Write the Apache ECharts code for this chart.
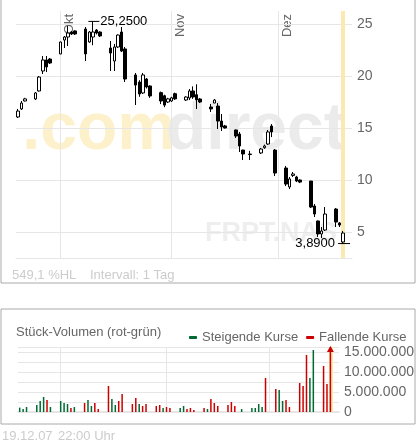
<!DOCTYPE html>
<html>
<head>
<meta charset="utf-8">
<script src="https://cdn.jsdelivr.net/npm/echarts@6/dist/echarts.min.js"></script>
<style>
  html,body{margin:0;padding:0;background:#fff;}
  #chart{width:417px;height:443px;}
</style>
</head>
<body>
<div id="chart"></div>
<script>
"use strict";

// trading days, OHLC [open, close, low, high]
var tradeDays=[
  '2007-09-19','2007-09-20','2007-09-21','2007-09-24','2007-09-25','2007-09-26','2007-09-27','2007-09-28',
  '2007-10-01','2007-10-02','2007-10-03','2007-10-04','2007-10-05',
  '2007-10-08','2007-10-09','2007-10-10','2007-10-11','2007-10-12',
  '2007-10-15','2007-10-16','2007-10-17','2007-10-18','2007-10-19',
  '2007-10-22','2007-10-23','2007-10-24','2007-10-25','2007-10-26',
  '2007-10-29','2007-10-30','2007-10-31','2007-11-01','2007-11-02',
  '2007-11-05','2007-11-06','2007-11-07','2007-11-08','2007-11-09',
  '2007-11-12','2007-11-13','2007-11-14','2007-11-15','2007-11-16',
  '2007-11-19','2007-11-20','2007-11-21','2007-11-23',
  '2007-11-26','2007-11-27','2007-11-28','2007-11-29','2007-11-30',
  '2007-12-03','2007-12-04','2007-12-05','2007-12-06','2007-12-07',
  '2007-12-10','2007-12-11','2007-12-12','2007-12-13','2007-12-14',
  '2007-12-17','2007-12-18','2007-12-19'
];
var ohlc=[
  [16.06,16.63,15.96,16.83],[16.83,17.40,16.73,17.60],[17.60,17.80,17.55,17.90],
  [17.79,18.37,17.69,18.46],[18.56,19.90,18.50,20.00],[20.48,21.54,20.19,21.92],[21.54,20.87,20.38,21.92],[21.63,21.25,21.15,21.73],
  [22.12,23.27,22.10,23.30],[23.46,23.75,22.69,23.85],[23.75,24.13,22.88,24.80],[24.23,24.04,23.94,24.33],[24.33,24.04,23.94,24.40],
  [24.52,22.12,21.44,24.71],[23.27,24.23,23.20,24.33],[23.75,24.23,22.96,25.25],[24.42,24.13,24.00,24.52],[24.23,23.85,23.75,24.30],
  [22.69,22.21,20.48,23.37],[21.44,22.79,20.48,23.08],[22.79,23.94,22.70,24.00],[24.23,22.40,22.30,24.71],[22.60,19.71,19.42,22.79],
  [20.10,19.13,17.21,20.29],[19.42,18.27,18.00,19.60],[18.37,20.10,18.27,20.29],[19.71,18.94,18.80,19.80],[19.04,18.08,17.90,19.10],
  [18.40,17.60,17.30,18.50],[18.10,17.20,17.00,18.20],[17.50,17.80,17.40,17.90],[17.60,17.90,17.50,18.00],[18.30,17.80,17.70,18.40],
  [17.69,17.98,17.60,18.05],[17.89,18.56,17.69,18.75],[18.56,17.98,17.80,19.00],[18.20,17.70,16.83,19.20],[17.79,17.50,17.40,17.89],
  [17.02,16.83,16.54,17.31],[17.40,17.69,17.40,17.79],[17.11,15.67,14.90,17.40],[15.67,15.10,14.71,16.35],[15.20,15.00,14.95,15.30],
  [14.81,14.23,14.04,14.85],[14.42,13.27,12.69,14.62],[12.88,12.50,11.92,12.90],[12.50,12.45,11.92,12.80],
  [12.60,12.98,12.50,13.08],[13.10,13.27,13.00,13.40],[13.46,14.62,13.37,14.81],[15.19,14.62,14.13,15.38],[12.88,10.67,10.38,12.98],
  [11.15,9.61,9.42,11.35],[9.33,10.10,9.13,10.29],[10.44,10.58,10.29,10.77],[10.29,9.90,9.80,10.40],[10.00,9.80,9.70,10.05],
  [9.90,7.40,7.30,9.90],[7.50,6.73,6.44,7.69],[6.06,4.81,4.52,6.10],[4.81,5.10,4.42,5.48],[5.19,6.73,5.10,7.40],
  [7.21,5.96,5.48,7.30],[5.87,5.67,5.48,5.96],[4.04,4.90,3.89,5.10]
];
// volume in millions, u = steigend (green), d = fallend (red)
var volume=[
  1.1,0.75,1.25,1.75,2.75,3.75,3.0,1.25,
  2.75,2.25,2.0,1.0,1.25,
  2.25,3.0,1.5,2.25,0.75,
  6.5,3.25,1.75,2.75,4.5,
  2.0,3.5,2.0,1.5,2.0,
  1.5,1.75,1.0,1.25,1.0,
  1.0,1.5,0.75,1.0,0.5,
  1.0,0.75,3.25,2.25,1.5,
  1.75,2.5,1.5,0.75,
  1.0,1.0,2.0,1.25,8.5,
  5.75,5.5,2.75,3.0,1.25,
  7.25,6.5,14.25,8.5,15.5,
  11.5,7.0,18.0
];
var direction=[
  'u','u','u','u','u','u','d','u',
  'u','u','u','d','u',
  'd','u','u','d','d',
  'd','u','u','d','d',
  'd','d','u','d','d',
  'd','d','u','d','d',
  'u','u','d','d','d',
  'd','u','d','d','d',
  'd','d','d','u',
  'u','u','u','u','d',
  'd','u','u','d','d',
  'd','d','d','u','u',
  'd','d','d'
];
var priceTicks=[5,10,15,20,25];
var monthStarts=[['2007-10-01','Okt'],['2007-11-01','Nov'],['2007-12-01','Dez']];
var highMark=['2007-10-10',25.25,'25,2500'];
var lowMark=['2007-12-19',3.89,'3,8900'];
var today='2007-12-19';

// calendar axis (weekends stay empty)
var days=[];
var d=new Date(Date.UTC(2007,8,19));
var end=new Date(Date.UTC(2007,11,21));
while(d<=end){days.push(d.toISOString().slice(0,10));d.setUTCDate(d.getUTCDate()+1);}

var candleData=days.map(function(x){var i=tradeDays.indexOf(x);return i<0?'-':ohlc[i];});
var upVol=days.map(function(x){var i=tradeDays.indexOf(x);return (i>=0&&direction[i]=='u')?Math.min(volume[i]*1e6,16.25e6):'-';});
var downVol=days.map(function(x){var i=tradeDays.indexOf(x);return (i>=0&&direction[i]=='d')?Math.min(volume[i]*1e6,16.25e6):'-';});

var GRID='#e6e6e6', TXT='#666', FONT='Liberation Sans';
var GREEN='#006a33', RED='#cc0000', YEL='#fbe9b0';
var F13='13px "Liberation Sans"';

var chart=echarts.init(document.getElementById('chart'),null,{renderer:'canvas'});

var gridLines=priceTicks.map(function(v){return {yAxis:v};})
  .concat(monthStarts.map(function(m){return {xAxis:m[0]};}))
  .concat([{xAxis:today,lineStyle:{color:YEL,width:4}}]);

var option={
  animation:false,
  textStyle:{fontFamily:FONT},
  grid:[
    {left:16,right:65,top:11,height:247},
    {left:18,right:63,top:347,height:65}
  ],
  legend:{
    left:184,top:326,itemWidth:8,itemHeight:3,itemGap:8,
    textStyle:{color:TXT,fontSize:13,fontFamily:FONT},
    data:['Steigende Kurse','Fallende Kurse']
  },
  xAxis:[
    {type:'category',gridIndex:0,data:days,boundaryGap:true,
     axisLine:{lineStyle:{color:GRID}},axisTick:{show:false},axisLabel:{show:false},splitLine:{show:false}},
    {type:'category',gridIndex:1,data:days,boundaryGap:true,
     axisLine:{lineStyle:{color:GRID,width:2}},axisTick:{show:false},axisLabel:{show:false},splitLine:{show:false}}
  ],
  yAxis:[
    {type:'value',gridIndex:0,position:'right',min:2.5,max:26.25,interval:2.5,
     axisLine:{show:false},axisTick:{show:false},splitLine:{show:false},
     axisLabel:{color:TXT,fontSize:14,margin:5,showMaxLabel:false,
       formatter:function(v){return priceTicks.indexOf(v)>=0?String(v):'';}}},
    {type:'value',gridIndex:1,position:'right',min:0,max:16.25e6,interval:2.5e6,
     axisLine:{show:false},axisTick:{show:false},
     splitLine:{lineStyle:{color:GRID}},
     axisLabel:{color:TXT,fontSize:14,margin:5,showMaxLabel:false,
       formatter:function(v){return v%5e6===0?v.toLocaleString('de-DE'):'';}}}
  ],
  series:[
    {type:'line',xAxisIndex:0,yAxisIndex:0,data:[],z:1,silent:true,
     markLine:{silent:true,symbol:'none',label:{show:false},animation:false,
       lineStyle:{color:GRID,type:'solid',width:1},data:gridLines}},
    {type:'candlestick',xAxisIndex:0,yAxisIndex:0,data:candleData,barWidth:3,zlevel:1,z:5,
     itemStyle:{color:'#fff',color0:'#000',borderColor:'#000',borderColor0:'#000',borderWidth:1},
     markPoint:{symbol:'rect',silent:true,animation:false,
       itemStyle:{color:'#000'},
       label:{fontSize:13,color:'#000',fontFamily:FONT},
       data:[
         {coord:[highMark[0],highMark[1]],symbolSize:[11,1],symbolOffset:[1,0],
          label:{position:'right',distance:1,formatter:highMark[2]}},
         {coord:[lowMark[0],lowMark[1]],symbolSize:[12,1],symbolOffset:[1,0],
          label:{position:'left',distance:3,formatter:lowMark[2]}}
       ]}},
    {type:'line',xAxisIndex:1,yAxisIndex:1,data:[],z:1,silent:true,
     markLine:{silent:true,symbol:'none',label:{show:false},animation:false,
       data:[{xAxis:today,lineStyle:{color:YEL,width:4,type:'solid'}}].concat(
         monthStarts.map(function(m){return {xAxis:m[0],lineStyle:{color:GRID,width:1,type:'solid'}};}))}},
    {name:'Steigende Kurse',type:'bar',xAxisIndex:1,yAxisIndex:1,data:upVol,barWidth:1.5,barGap:'-100%',
     itemStyle:{color:GREEN},zlevel:1,z:5},
    {name:'Fallende Kurse',type:'bar',xAxisIndex:1,yAxisIndex:1,data:downVol,barWidth:1.5,barGap:'-100%',
     itemStyle:{color:RED},zlevel:1,z:5,
     markPoint:{symbol:'triangle',symbolSize:[7,6],symbolOffset:[0,2],silent:true,animation:false,
       itemStyle:{color:RED},label:{show:false},
       data:[{coord:[today,16.25e6]}]}}
  ],
  graphic:[
    {type:'rect',shape:{x:1,y:-2,width:414,height:285},style:{fill:'none',stroke:'#aaa',lineWidth:1},silent:true},
    {type:'rect',shape:{x:1,y:309,width:414,height:115},style:{fill:'none',stroke:'#aaa',lineWidth:1},silent:true},
    {type:'text',x:22,y:98,z:0,silent:true,style:{text:'.com',fill:'#fdf1cc',font:'bold 66px "Liberation Sans"'}},
    {type:'text',x:166,y:98,z:0,silent:true,style:{text:'direct',fill:'#ebebeb',font:'bold 66px "Liberation Sans"'}},
    {type:'text',x:205,y:220,z:0,silent:true,style:{text:'FRPT.NAS',fill:'#eeeeee',font:'bold 27px "Liberation Sans"'}},
    {type:'text',x:12,y:269,silent:true,style:{text:'549,1 %HL',fill:'#cccccc',font:F13}},
    {type:'text',x:90,y:269,silent:true,style:{text:'Intervall: 1 Tag',fill:'#cccccc',font:F13}},
    {type:'text',x:16,y:326,silent:true,style:{text:'Stück-Volumen (rot-grün)',fill:TXT,font:F13}},
    {type:'text',x:2,y:430,silent:true,style:{text:'19.12.07',fill:'#cccccc',font:F13}},
    {type:'text',x:58,y:430,silent:true,style:{text:'22:00 Uhr',fill:'#cccccc',font:F13}}
  ]
};
chart.setOption(option);

// month names, rotated, next to the month lines
var labels=monthStarts.map(function(m){
  var px=chart.convertToPixel({xAxisIndex:0},m[0]);
  return {type:'text',x:px+2,y:14,rotation:Math.PI/2,silent:true,
    style:{text:m[1],fill:TXT,font:F13,textAlign:'right',textVerticalAlign:'top'}};
});
chart.setOption({graphic:option.graphic.concat(labels)});
</script>
</body>
</html>
